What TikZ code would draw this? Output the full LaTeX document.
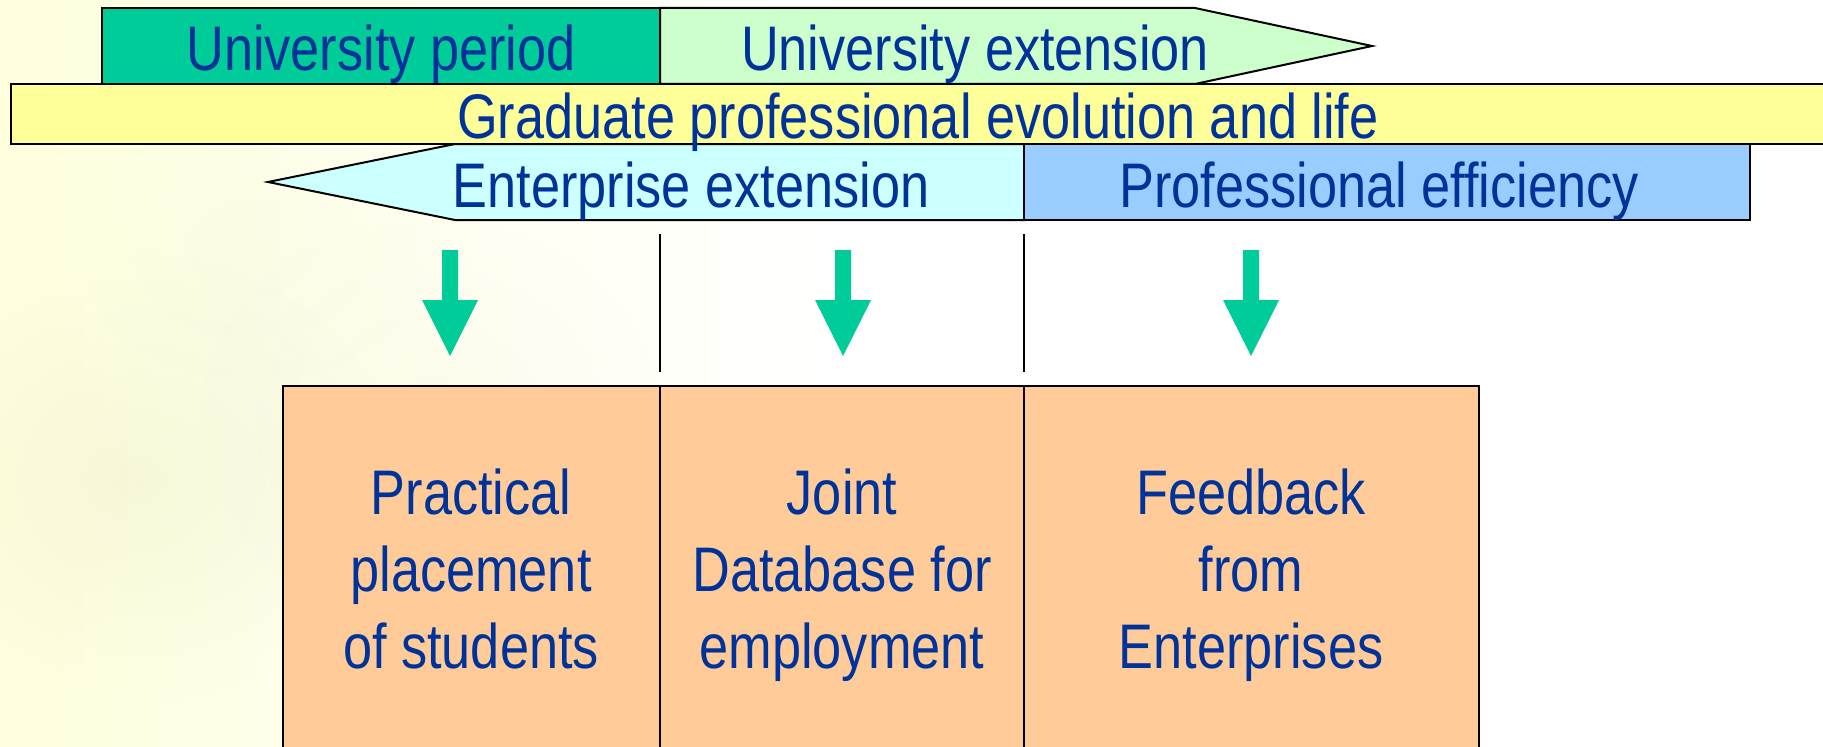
\documentclass[tikz,border=0pt]{standalone}
\usepackage{fontspec}
\setmainfont{Liberation Sans}[FakeStretch=0.83]
\usetikzlibrary{fadings}
\tikzfading[name=softblob, inner color=transparent!0, outer color=transparent!100]
\definecolor{txtblue}{HTML}{003399}
\definecolor{upgreen}{HTML}{00CC99}
\definecolor{uelight}{HTML}{CCFFCC}
\definecolor{gradyel}{HTML}{FFFF99}
\definecolor{entcyan}{HTML}{CCFFFF}
\definecolor{profblue}{HTML}{99CCFF}
\definecolor{peach}{HTML}{FFCC99}
\definecolor{bgA}{HTML}{FFFF8C}
\definecolor{bgB}{HTML}{FFFFAA}
\definecolor{bgC}{HTML}{FFFFC6}
\definecolor{bgD}{HTML}{FFFFDC}
\definecolor{bgE}{HTML}{FFFFF0}
\definecolor{ghost}{HTML}{B4B478}
\pgfdeclarehorizontalshading{bgsh}{100bp}{color(0bp)=(bgA); color(3bp)=(bgB); color(10bp)=(bgC); color(24bp)=(bgD); color(36bp)=(bgE); color(48bp)=(white); color(100bp)=(white)}
\tikzset{
  box/.style={draw=black, line width=0.8pt, line join=miter},
  divider/.style={draw=black, line width=0.6pt},
  lbl/.style={text=txtblue, inner sep=0pt, font=\fontsize{25.2}{30.8}\selectfont},
  toplbl/.style={lbl, anchor=base},
  boxlbl/.style={lbl, anchor=center, align=center},
  blockarrow/.style={fill=upgreen, draw=none},
  ghostblob/.style={fill=ghost, path fading=softblob}
}
\begin{document}
\begin{tikzpicture}[x=0.4pt, y=-0.4pt]
\useasboundingbox (0,0) rectangle (1823,746);
\clip (0,0) rectangle (1823,746);
% background
\shade[shading=bgsh] (0,0) rectangle (1823,746);
% faint watermark
\fill[ghostblob, opacity=0.10] (140,480) ellipse [x radius=260, y radius=230];
\fill[ghostblob, opacity=0.05] (430,420) ellipse [x radius=240, y radius=210];
\fill[ghostblob, opacity=0.04] (250,250) ellipse [x radius=180, y radius=140];

% top bands
\path[box, fill=upgreen] (102,8) rectangle (660,84);
\path[box, fill=uelight] (660,8) -- (1195,8) -- (1372,46) -- (1195,84) -- (660,84) -- cycle;
\path[box, fill=gradyel] (11,84) rectangle (1840,144);
\path[box, fill=entcyan] (268,182) -- (455,144) -- (1024,144) -- (1024,220) -- (455,220) -- cycle;
\path[box, fill=profblue] (1024,144) rectangle (1750,220);

\node[toplbl] (up) at (381,71) {University period};
\node[toplbl] (ue) at (975,71) {University extension};
\node[toplbl] (gp) at (918,138) {Graduate professional evolution and life};
\node[toplbl] (ee) at (691,207) {Enterprise extension};
\node[toplbl] (pe) at (1379,207) {Professional efficiency};

% dividers
\coordinate (d1a) at (660,234); \coordinate (d1b) at (660,372);
\coordinate (d2a) at (1024,234); \coordinate (d2b) at (1024,372);
\draw[divider] (d1a) -- (d1b);
\draw[divider] (d2a) -- (d2b);

% block arrows
\foreach \cx in {450,843,1251}{
  \fill[blockarrow] (\cx-8,250) -- (\cx+8,250) -- (\cx+8,300) -- (\cx+28,300)
    -- (\cx,356) -- (\cx-28,300) -- (\cx-8,300) -- cycle;
}

% bottom boxes
\path[box, fill=peach] (283,386) rectangle (660,770);
\path[box, fill=peach] (660,386) rectangle (1024,770);
\path[box, fill=peach] (1024,386) rectangle (1479,770);

\node[boxlbl] (b1) at (471,576) {\strut Practical\\\strut placement\\\strut of students};
\node[boxlbl] (b2) at (842,576) {\strut Joint\\\strut Database for\\\strut employment};
\node[boxlbl] (b3) at (1251,576) {\strut Feedback\\\strut from\\\strut Enterprises};
\end{tikzpicture}
\end{document}
